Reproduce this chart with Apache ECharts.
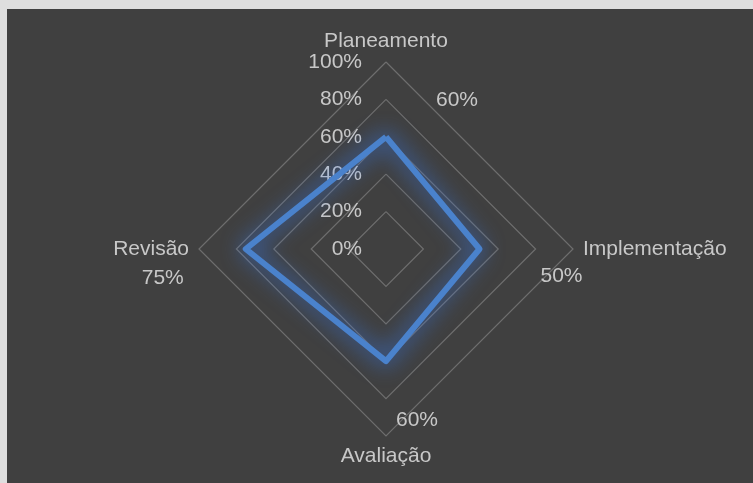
<!DOCTYPE html>
<html>
<head>
<meta charset="utf-8">
<script src="https://cdn.jsdelivr.net/npm/echarts@6/dist/echarts.min.js"></script>
<style>
  html, body { margin: 0; padding: 0; background: #dedede; }
  #chart { position: absolute; left: 7px; top: 9px; width: 746px; height: 474px; background: #404040; }
</style>
</head>
<body>
<div id="chart"></div>
<script>
// dados
var categories = ['Planeamento', 'Implementação', 'Avaliação', 'Revisão'];
var values = [60, 50, 60, 75];
var maxValue = 100;

// deslocamento dos rótulos de valor (estilo, como no Excel)
var labelOffsets = [[71, -37], [82, 27], [31, 59], [-83, 29]];

var textColor = '#c8c8c8';
var fontFamily = '"Liberation Sans", Arial, sans-serif';

var myChart = echarts.init(document.getElementById('chart'));

// o radar do echarts roda no sentido anti-horário; o Excel no horário
var order = [0, 3, 2, 1];
var orderedValues = order.map(function (i) { return values[i]; });

var indicators = order.map(function (i, k) {
    var ind = { name: categories[i], max: maxValue, min: 0 };
    if (k === 0) {
        ind.axisLabel = { show: true };
    }
    return ind;
});

// uma série "transparente" por eixo, só para pôr o rótulo do valor
var labelSeries = categories.map(function (name, i) {
    return {
        type: 'radar',
        silent: true,
        z: 3,
        symbol: 'circle',
        symbolSize: 1,
        itemStyle: { color: 'rgba(0,0,0,0)' },
        lineStyle: { opacity: 0 },
        label: {
            show: true,
            position: 'inside',
            offset: labelOffsets[i],
            color: textColor,
            fontFamily: fontFamily,
            fontSize: 21,
            formatter: function (p) {
                var v = p.value;
                if (v == null || v === '-' || isNaN(v)) return '';
                return v + '%';
            }
        },
        data: [{ value: order.map(function (j) { return j === i ? values[i] : null; }) }]
    };
});

var option = {
    backgroundColor: '#404040',
    animation: false,
    radar: {
        center: [379, 240],
        radius: 187,
        shape: 'polygon',
        splitNumber: 5,
        startAngle: 90,
        indicator: indicators,
        axisName: {
            color: textColor,
            fontFamily: fontFamily,
            fontSize: 21
        },
        nameGap: 10,
        axisLine: { show: false },
        axisTick: { show: false },
        axisLabel: {
            show: false,
            color: textColor,
            fontFamily: fontFamily,
            fontSize: 21,
            margin: 24,
            formatter: '{value}%'
        },
        splitLine: { lineStyle: { color: '#6e6e6e', width: 1.2 } },
        splitArea: { show: false }
    },
    series: [
        {
            type: 'radar',
            z: 2,
            symbol: 'none',
            lineStyle: {
                color: '#4a82cc',
                width: 6,
                shadowBlur: 22,
                shadowColor: 'rgba(55,125,245,1)'
            },
            data: [{ value: orderedValues, name: 'Valor' }]
        }
    ].concat(labelSeries)
};

myChart.setOption(option);
</script>
</body>
</html>
